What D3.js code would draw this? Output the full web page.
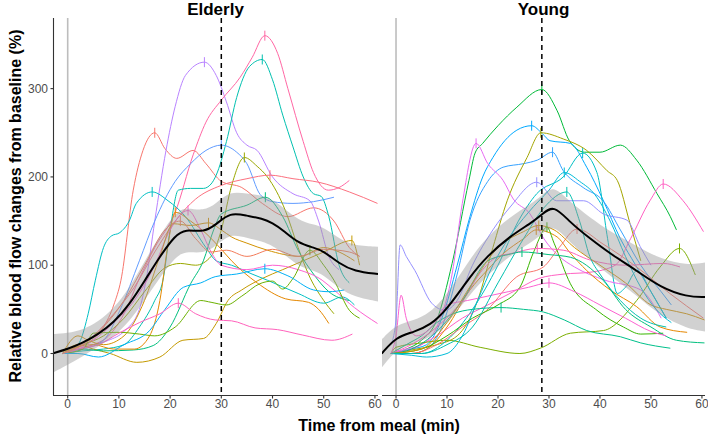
<!DOCTYPE html>
<html lang="en">
  <head>
    <meta charset="utf-8">
    <title>Blood flow after meal</title>
    <script src="https://d3js.org/d3.v7.min.js"></script>
    <style type="text/css">
      body { margin: 0; background: #fff; }
      text { font-family: "Liberation Sans", Arial, sans-serif; }
      .tick-label { font-size: 12px; fill: #4d4d4d; }
      .title { font-size: 17px; font-weight: bold; fill: #000; }
      .axis-title { font-size: 16px; font-weight: bold; fill: #000; }
    </style>
  </head>
  <body>
    <script>
      var w = 708;
      var h = 439;

      var panelNames = ["Elderly", "Young"];
      var mealPeak = [30, 28.6];
      var xTicks = [0, 10, 20, 30, 40, 50, 60];
      var yTicks = [0, 100, 200, 300];

      // individual subjects, [time, % change]
      var elderlyColors = ["#F8766D", "#B983FF", "#FF67A4", "#00C0AF", "#619CFF", "#C49A00",
        "#9AA800", "#00BFC4", "#FC717F", "#00BF7D", "#E58700", "#FD61D1",
        "#D39200", "#6BB100", "#00B0F6", "#FF62BC", "#F37B59"];
      var elderlySeries = [
        [[-1,0],[1,5],[4,12],[7,30],[9,55],[10.4,83],[12.8,185],[14.7,230],[17,250],[19,232],[21.3,221],[24.5,230],[27,215],[30,195],[34,188],[38,170],[43,155],[48,165],[52,150],[55,120],[57,110]],
        [[-1,0],[2,5],[5,10],[8,15],[11,25],[14,50],[15.3,83],[17,150],[19.2,230],[21,280],[23,315],[26.7,330],[29,315],[31,285],[33,250],[35,236],[37,230],[40,200],[44,181],[47.3,173],[49,150],[51,110],[53,95]],
        [[-1,0],[2,5],[5,10],[8,20],[11,45],[14,85],[17,120],[21,160],[24.5,225],[27,262],[30,287],[33.7,313],[36,335],[38.5,360],[41,340],[43,300],[46,240],[48,205],[50.9,185],[53,188],[55,196]],
        [[-1,0],[3,3],[7,5],[11,10],[14,30],[17,60],[18.6,83],[20,140],[21.6,185],[24,187],[26.5,187],[28,192],[29,202],[31,240],[33,290],[35.5,325],[38,333],[40,310],[42,270],[44,234],[46,200],[48,181],[49.5,178],[51,155],[53,100],[55,80]],
        [[-1,0],[3,5],[7,15],[10.2,49],[14,105],[17,150],[21,195],[24,215],[27,230],[30,236],[33,228],[35,215],[37.6,180],[40,172],[44,170],[48,172],[52,177]],
        [[-1,0],[2,10],[5,5],[8.3,0],[13.5,-10],[18,-4],[22.5,15],[26.5,17],[29,34],[31.3,60],[34,72],[38,85],[42,95],[46,105],[50,115],[55.5,128],[57,100]],
        [[-1,0],[3,10],[7,20],[11,40],[15,70],[19,97],[22,102],[25,100],[28,110],[30,140],[32,190],[34.5,222],[37,212],[39,200],[42.5,162],[45,120],[47,90],[50,60],[52,45]],
        [[-1,0],[1,5],[2.5,15],[4,45],[5.4,83],[7,120],[8.5,133],[10.2,137],[12,150],[13.4,170],[16.5,183],[19.6,173],[23,155],[27,120],[29,105],[32,100],[36,90],[39,83],[45,68],[50,57],[53.6,64],[56,55]],
        [[-1,0],[2,8],[5,20],[9,45],[13,75],[17,115],[21,150],[25,175],[29.8,190],[35,198],[39.5,202],[44,198],[49,194],[55,183],[60.5,170]],
        [[-1,0],[3,5],[7,3],[12.8,4],[16.7,9],[20,30],[24,79],[26.5,105],[28.5,140],[30,158],[35,168],[38.6,177],[42,155],[45,117],[48,90],[51,70],[55,60]],
        [[-1,0],[2,8],[5,10],[9,5],[13,5],[16,20],[18,60],[19.5,120],[21,160],[24,150],[27,136],[30,118],[32,105],[37,80],[42.5,62],[47,58],[49,50],[51,34]],
        [[-1,0],[2,5],[5,15],[9,35],[13,60],[17,100],[20,140],[23.5,162],[26,140],[28,115],[30,100],[35,95],[40,100],[45,95],[49.7,83],[52,72],[56,52],[60.5,34]],
        [[-1,0],[2,20],[4,15],[7,10],[11,20],[15,60],[18,110],[20.6,147],[24,145],[27.5,148],[30,140],[32,132],[35,125],[39,117],[45.4,110],[50,120],[53,115],[56,105]],
        [[-1,0],[3,5],[5,23],[10,24],[14,22],[17,20],[21,30],[26,60],[28,58],[31,55],[34,65],[37.5,79],[40,82],[42,73],[44,85],[47.3,117],[50,100],[52,83],[55,49],[57,40]],
        [[-1,0],[2,0],[6,-4],[11,10],[16,26],[19,50],[22.6,75],[26,80],[28.8,87],[33,90],[38.5,96],[43,88],[48,72],[51,70],[54,72]],
        [[-1,0],[2,5],[6,10],[10,23],[14,35],[18,45],[21.6,57],[25,45],[28.8,38],[32,37],[36.6,29],[41,27],[45.8,21],[51.6,15],[55.6,22]],
        [[-1,0],[3,10],[7,30],[11,60],[15,100],[19,140],[22,150],[25,130],[28,115],[31,117],[35,110],[40,118],[45,110],[50,118],[55,115],[57,110]]
      ];

      var youngColors = ["#00BA38", "#00A9FF", "#35A2FF", "#A3A500", "#00BFC4", "#9590FF",
        "#E76BF3", "#FF61C3", "#7CAE00", "#E58700", "#F8766D", "#00C08B",
        "#39B600", "#FF62BC", "#00BF7D", "#FD61D1", "#D39200", "#00BCD8", "#00C0AF"];
      var youngSeries = [
        [[-1,0],[2,5],[5,15],[8,38],[11,102],[14.3,196],[15.5,227],[17,238],[20,258],[23.7,279],[28.6,299],[31.6,275],[34,241],[37,228],[40,228],[44,236],[47.2,219],[51.2,181],[53.8,155],[55,140]],
        [[-1,0],[3,5],[6,10],[9,40],[12,100],[14.5,155],[17,200],[19,222],[23.7,253],[26.6,258],[28.7,249],[30.2,241],[34.2,238],[37.4,211],[40.6,174],[44,130],[47,100],[50,70],[53,40]],
        [[-1,0],[3,0],[6,5],[9,30],[12,90],[14.5,151],[18,195],[21,211],[25,215],[27.7,219],[30.7,228],[32.8,207],[36.7,188],[40.6,173],[44,140],[48,100],[52,70],[54,55]],
        [[-1,0],[4,5],[8,10],[12,20],[16,60],[19,120],[21.8,173],[25.7,222],[28.4,250],[32.8,243],[37.4,230],[41.4,207],[43.4,196],[45.9,147],[48,105]],
        [[-1,0],[5,0],[10,15],[15,50],[20,100],[24,150],[27.6,181],[32.8,200],[36.6,227],[39.4,205],[41.5,130],[43.4,68],[45,75],[47.3,94],[50,70],[53,40]],
        [[-1,10],[0,38],[0.8,123],[2,110],[3.7,94],[7,57],[9.6,49],[12,60],[15,100],[19,140],[22.4,166],[27.6,194],[31.5,173],[36.8,173],[40.7,158],[45.3,151],[47.9,121],[50,100]],
        [[-1,0],[2,5],[5,10],[8,30],[11,90],[13,170],[15.7,238],[18,215],[21,196],[23,175],[26.3,158],[29,130],[32,110],[35,98],[41,83],[48,72],[52,40]],
        [[-1,0],[3,5],[8,20],[13,40],[18,55],[23,70],[28,85],[33,90],[38,92],[43,100],[46,130],[49.8,173],[52.4,192],[56.3,173],[60.3,138]],
        [[-1,0],[0,7],[5,12],[10,15],[16.5,7],[24.3,0],[28.3,6],[34.2,23],[40.7,26],[47.2,60],[51.8,98],[55.6,119],[58.7,89]],
        [[-1,0],[3,0],[6,5],[10,30],[14.5,72],[18,95],[21,113],[25,130],[27.5,140],[31.6,132],[34,115],[37.4,94],[42,72],[47.2,53],[51.8,30],[57.1,24]],
        [[-1,0],[3,0],[8,10],[13,30],[17.8,49],[23.7,87],[28.9,98],[32,120],[35.5,141],[40.6,124],[47.2,98],[53.7,68],[60.3,40]],
        [[-1,0],[2,10],[5,20],[8,35],[11.2,45],[15,50],[20.6,52],[25,50],[28.9,47],[33,38],[37.4,26],[44,19],[48,12],[53.8,6]],
        [[-1,0],[5,5],[10,20],[15,40],[20,55],[24.3,75],[27,115],[29.6,143],[31,125],[34.2,79],[39.4,49],[44.6,30],[48,22],[52.4,23]],
        [[-1,0],[3,10],[8,30],[13,60],[17,95],[20,110],[22.4,113],[27.7,119],[32.8,117],[38,106],[45,100],[52.4,102],[55.7,98]],
        [[-1,0],[3,5],[8,25],[13,60],[18,105],[22,112],[24.7,115],[30,112],[34.2,109],[40.6,83],[45,50],[50,30],[55,15],[60.5,12]],
        [[-1,0],[0,20],[1,66],[2,40],[4,20],[7,30],[10,55],[14,60],[18,65],[22,70],[26,75],[30,80],[35,70],[40,55],[45,40],[50,25],[53,20]],
        [[-1,0],[5,5],[10,35],[15,80],[20,120],[25,138],[28,145],[31,140],[35,120],[40,100],[45,80],[50,55],[53,50],[57,45],[60.5,38]],
        [[-1,0],[3,-2],[6,-4],[10,0],[13,20],[16,60],[19,100],[22,130],[26,160],[30,185],[33,205],[36,195],[39,180],[42,150],[45,110],[48,75],[51,50],[54,35]],
        [[-1,0],[5,0],[10,10],[15,30],[20,80],[25,130],[29,165],[33.5,183],[36,150],[38,110],[40,90],[44,60],[48,40],[53,30]]
      ];

      // group mean smooth with confidence band
      var elderlyMeanT = [-3, 0, 3, 6, 9, 12, 15, 18, 21, 23, 26.5, 29, 31.7, 35, 38, 40, 42, 45, 48, 50, 53, 56, 60.6];
      var elderlyMean = [0, 5, 12, 22, 35, 55, 82, 110, 134, 141, 137, 146, 160, 156, 153, 148, 140, 125, 120, 116, 102, 93, 90];
      var elderlyHalf = [22, 18, 15, 14, 16, 19, 22, 24, 25, 25, 24, 24, 24, 25, 26, 26, 26, 26, 26, 27, 28, 29, 31];
      var youngMeanT = [-2.8, 0.1, 3.4, 6.7, 9.9, 14.5, 17.8, 22.4, 26.3, 28.6, 30.9, 34.2, 38.1, 42, 47.2, 51.8, 57.1, 60.6];
      var youngMean = [0, 19, 24, 32, 49, 87, 110, 133, 147, 157, 169, 148, 130, 113, 94, 75, 64, 64];
      var youngHalf = [16, 14, 13, 14, 17, 20, 22, 22, 22, 22, 22, 23, 24, 25, 28, 32, 36, 39];

      var svg = d3.select("body").append("svg")
          .attr("width", w).attr("height", h);

      var yScale = d3.scaleLinear().domain([-47, 380]).range([395, 18]);

      var xScales = [
        d3.scaleLinear().domain([-2.87, 60.6]).range([53, 378]),
        d3.scaleLinear().domain([-2.75, 60.6]).range([382, 705])
      ];

      var panels = [
        {series: elderlySeries, colors: elderlyColors, mt: elderlyMeanT, m: elderlyMean, hw: elderlyHalf},
        {series: youngSeries, colors: youngColors, mt: youngMeanT, m: youngMean, hw: youngHalf}
      ];

      panels.forEach(function(p, i) {
        var x = xScales[i];
        var g = svg.append("g");
        var x0 = x.range()[0], x1 = x.range()[1];

        svg.append("clipPath").attr("id", "clip" + i)
          .append("rect").attr("x", x0).attr("y", 18)
          .attr("width", x1 - x0).attr("height", 377);

        // zero line
        g.append("line")
          .attr("x1", x(0)).attr("x2", x(0))
          .attr("y1", 18).attr("y2", 395)
          .attr("stroke", "#bdbdbd").attr("stroke-width", 1.6);

        var plot = g.append("g").attr("clip-path", "url(#clip" + i + ")");

        var line = d3.line()
          .x(d => x(d[0])).y(d => yScale(d[1]))
          .curve(d3.curveMonotoneX);

        plot.selectAll(".subj")
          .data(p.series)
          .enter().append("path")
          .attr("d", line)
          .attr("fill", "none")
          .attr("stroke", (d, k) => p.colors[k])
          .attr("stroke-width", 1);

        // peak markers
        plot.selectAll(".peak")
          .data(p.series)
          .enter().append("line")
          .each(function(d, k) {
            var pk = d3.greatest(d, e => e[1]);
            d3.select(this)
              .attr("x1", x(pk[0])).attr("x2", x(pk[0]))
              .attr("y1", yScale(pk[1]) - 5).attr("y2", yScale(pk[1]) + 5)
              .attr("stroke", p.colors[k]).attr("stroke-width", 1);
          });

        var band = p.mt.map((t, k) => [t, p.m[k] - p.hw[k], p.m[k] + p.hw[k]]);
        plot.append("path")
          .datum(band)
          .attr("d", d3.area()
            .x(d => x(d[0])).y0(d => yScale(d[1])).y1(d => yScale(d[2]))
            .curve(d3.curveBasis))
          .attr("fill", "#999999").attr("fill-opacity", 0.45);

        plot.append("path")
          .datum(p.mt.map((t, k) => [t, p.m[k]]))
          .attr("d", d3.line().x(d => x(d[0])).y(d => yScale(d[1])).curve(d3.curveBasis))
          .attr("fill", "none").attr("stroke", "#000").attr("stroke-width", 2);

        // meal peak dashed line
        g.append("line")
          .attr("x1", x(mealPeak[i])).attr("x2", x(mealPeak[i]))
          .attr("y1", 18).attr("y2", 395)
          .attr("stroke", "#000").attr("stroke-width", 1.5)
          .attr("stroke-dasharray", "5,4");

        // x axis
        g.append("line")
          .attr("x1", x0).attr("x2", x1)
          .attr("y1", 395.5).attr("y2", 395.5)
          .attr("stroke", "#333").attr("stroke-width", 1.1);
        xTicks.forEach(function(t) {
          g.append("line")
            .attr("x1", x(t)).attr("x2", x(t))
            .attr("y1", 395.5).attr("y2", 398.5)
            .attr("stroke", "#333").attr("stroke-width", 1.1);
          g.append("text").attr("class", "tick-label")
            .attr("x", x(t)).attr("y", 408)
            .attr("text-anchor", "middle")
            .text(t);
        });

        g.append("text").attr("class", "title")
          .attr("x", (x0 + x1) / 2).attr("y", 15)
          .attr("text-anchor", "middle")
          .text(panelNames[i]);
      });

      // y axis on the first panel
      var ya = svg.append("g");
      ya.append("line")
        .attr("x1", 53.5).attr("x2", 53.5)
        .attr("y1", 18).attr("y2", 395.5)
        .attr("stroke", "#333").attr("stroke-width", 1.1);
      yTicks.forEach(function(v) {
        ya.append("line")
          .attr("x1", 50.5).attr("x2", 53.5)
          .attr("y1", yScale(v)).attr("y2", yScale(v))
          .attr("stroke", "#333").attr("stroke-width", 1.1);
        ya.append("text").attr("class", "tick-label")
          .attr("x", 48).attr("y", yScale(v) + 4.2)
          .attr("text-anchor", "end")
          .text(v);
      });

      svg.append("text").attr("class", "axis-title")
        .attr("transform", "translate(21," + 206 + ") rotate(-90)")
        .attr("text-anchor", "middle")
        .text("Relative blood flow changes from baseline (%)");

      svg.append("text").attr("class", "axis-title")
        .attr("x", 379).attr("y", 431)
        .attr("text-anchor", "middle")
        .text("Time from meal (min)");
    </script>
  </body>
</html>
